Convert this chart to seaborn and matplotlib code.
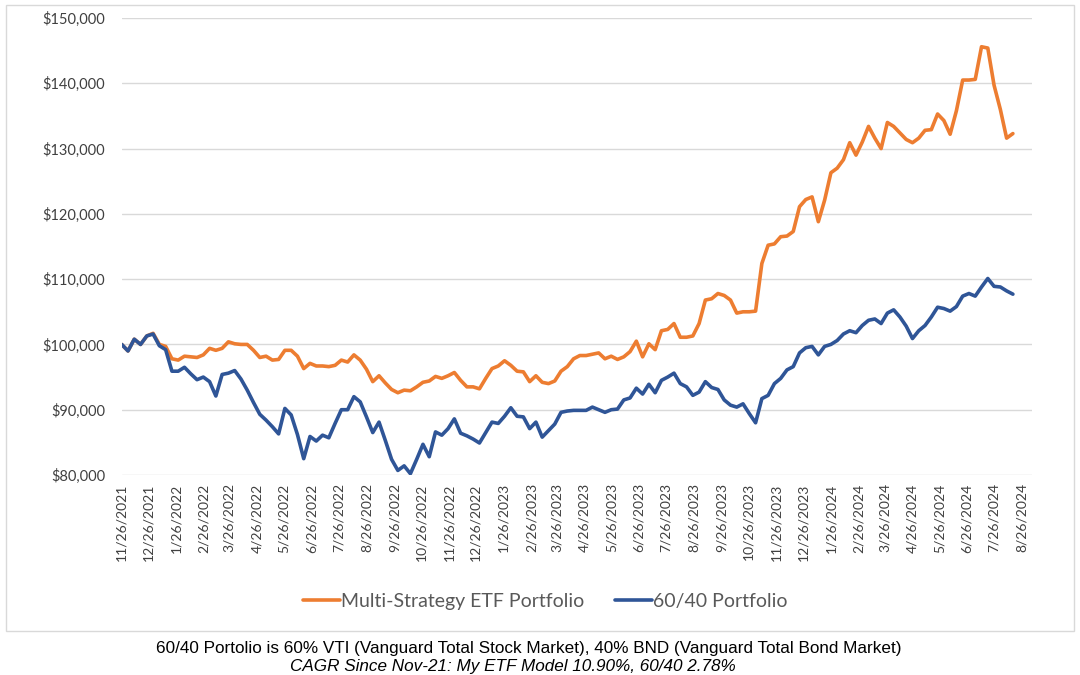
import matplotlib
matplotlib.use("Agg")
import matplotlib.pyplot as plt
from matplotlib.patches import Rectangle
from matplotlib.ticker import FuncFormatter
import numpy as np
import pandas as pd
import seaborn as sns

# weekly portfolio values (thousands of $)
start_date = "2021-11-26"
etf_model = [
    100.0, 99.0, 100.8, 100.0, 101.3, 101.7, 100.0, 99.7, 97.8, 97.6,
    98.2, 98.1, 98.0, 98.4, 99.4, 99.1, 99.4, 100.4, 100.1, 100.0,
    100.0, 99.1, 98.0, 98.2, 97.6, 97.7, 99.1, 99.1, 98.2, 96.3,
    97.1, 96.7, 96.7, 96.6, 96.8, 97.6, 97.3, 98.4, 97.6, 96.2,
    94.3, 95.2, 94.1, 93.1, 92.6, 93.0, 92.9, 93.5, 94.2, 94.4,
    95.1, 94.8, 95.2, 95.7, 94.5, 93.5, 93.5, 93.2, 94.8, 96.3,
    96.7, 97.5, 96.8, 95.9, 95.8, 94.3, 95.2, 94.2, 94.0, 94.4,
    95.9, 96.6, 97.8, 98.3, 98.3, 98.5, 98.7, 97.8, 98.2, 97.7,
    98.1, 98.9, 100.5, 98.1, 100.1, 99.2, 102.1, 102.3, 103.2, 101.1,
    101.1, 101.3, 103.2, 106.8, 107.0, 107.8, 107.5, 106.8, 104.8, 105.0,
    105.0, 105.1, 112.4, 115.2, 115.4, 116.5, 116.6, 117.3, 121.1, 122.2,
    122.6, 118.8, 122.1, 126.3, 127.0, 128.3, 130.9, 129.0, 131.0, 133.4,
    131.6, 130.0, 134.0, 133.4, 132.4, 131.4, 130.9, 131.6, 132.8, 132.9,
    135.3, 134.3, 132.2, 135.8, 140.5, 140.5, 140.6, 145.6, 145.4, 139.7,
    136.0, 131.6, 132.3,
]
sixty_forty = [
    100.0, 99.0, 100.8, 100.0, 101.3, 101.6, 99.8, 99.2, 95.9, 95.9,
    96.5, 95.5, 94.6, 95.0, 94.3, 92.1, 95.4, 95.6, 96.0, 94.7,
    93.0, 91.1, 89.3, 88.4, 87.4, 86.3, 90.2, 89.2, 86.2, 82.5,
    85.9, 85.2, 86.1, 85.7, 87.9, 90.0, 90.0, 92.0, 91.2, 88.9,
    86.5, 88.1, 85.3, 82.4, 80.7, 81.4, 80.2, 82.4, 84.7, 82.8,
    86.6, 86.1, 87.1, 88.6, 86.4, 86.0, 85.5, 84.9, 86.5, 88.1,
    87.9, 89.0, 90.3, 89.0, 88.9, 87.1, 88.1, 85.8, 86.8, 87.8,
    89.6, 89.8, 89.9, 89.9, 89.9, 90.4, 90.0, 89.6, 90.0, 90.1,
    91.5, 91.8, 93.3, 92.4, 93.9, 92.6, 94.5, 95.0, 95.6, 94.0,
    93.5, 92.2, 92.7, 94.3, 93.4, 93.1, 91.5, 90.7, 90.4, 90.9,
    89.4, 88.0, 91.7, 92.2, 94.0, 94.8, 96.1, 96.6, 98.7, 99.5,
    99.7, 98.4, 99.7, 100.0, 100.6, 101.6, 102.1, 101.8, 102.9, 103.7,
    103.9, 103.2, 104.8, 105.3, 104.2, 102.8, 100.9, 102.1, 102.9, 104.2,
    105.7, 105.5, 105.1, 105.8, 107.4, 107.8, 107.4, 108.8, 110.1, 108.9,
    108.8, 108.2, 107.7,
]
series_names = ["Multi-Strategy ETF Portfolio", "60/40 Portfolio"]
colors = ["#ED7D31", "#2F5597"]
y_ticks = [80000, 90000, 100000, 110000, 120000, 130000, 140000, 150000]
caption_1 = "60/40 Portolio is 60% VTI (Vanguard Total Stock Market), 40% BND (Vanguard Total Bond Market)"
caption_2 = "CAGR Since Nov-21: My ETF Model 10.90%, 60/40 2.78%"

dates = pd.date_range(start_date, periods=len(etf_model), freq="7D")
df = pd.DataFrame({
    "date": np.concatenate([dates, dates]),
    "value": np.array(etf_model + sixty_forty) * 1000.0,
    "series": [series_names[0]] * len(etf_model) + [series_names[1]] * len(sixty_forty),
})
month_ticks = pd.date_range(start_date, "2024-08-26", freq=pd.DateOffset(months=1))

sns.set_theme(style="white")
plt.rcParams["font.family"] = ["Lato", "DejaVu Sans"]

fig = plt.figure(figsize=(10.8, 6.75), dpi=100)
ax = fig.add_axes([0.1127, 0.2963, 0.8426, 0.677])

sns.lineplot(data=df, x="date", y="value", hue="series", palette=colors,
             linewidth=2.6, ax=ax, legend=True)

ax.set_ylim(80000, 150000)
ax.set_xlim(pd.Timestamp(start_date), pd.Timestamp("2024-09-06"))
ax.set_yticks(y_ticks)
ax.yaxis.set_major_formatter(FuncFormatter(lambda v, _: f"${v:,.0f}"))
ax.set_xticks(month_ticks)
ax.set_xticklabels([f"{d.month}/{d.day}/{d.year}" for d in month_ticks], rotation=90)
ax.grid(axis="y", color="#D9D9D9", linewidth=1)
ax.grid(axis="x", visible=False)
for s in ax.spines.values():
    s.set_visible(False)
ax.tick_params(axis="y", length=0, pad=12, labelsize=10.5, labelcolor="#404040")
ax.tick_params(axis="x", length=0, pad=6, labelsize=10, labelcolor="#404040")
ax.set_xlabel("")
ax.set_ylabel("")

handles, labels = ax.get_legend_handles_labels()
ax.legend_.remove()
fig.legend(handles, labels, loc="center", bbox_to_anchor=(545 / 1080, 1 - 601 / 675),
           ncol=2, frameon=False, fontsize=14, handlelength=1.9, handletextpad=0.05,
           columnspacing=1.6, labelcolor="#595959")

fig.patches.append(Rectangle((6 / 1080, 1 - 631 / 675), 1068 / 1080, 626 / 675,
                             transform=fig.transFigure, fill=False,
                             edgecolor="#D9D9D9", linewidth=1))

fig.text(0.490, 1 - 648 / 675, caption_1, ha="center", va="center", fontsize=12.3,
         family=["Liberation Sans", "DejaVu Sans"], color="black")
fig.text(0.475, 1 - 666 / 675, caption_2, ha="center", va="center", fontsize=12.3,
         style="italic", family=["Liberation Sans", "DejaVu Sans"], color="black")

fig.savefig("out.png", dpi=100)
